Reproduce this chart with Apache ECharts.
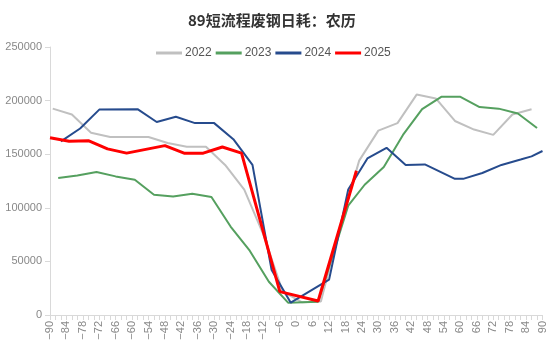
<!DOCTYPE html>
<html>
<head>
<meta charset="utf-8">
<script src="https://cdn.jsdelivr.net/npm/echarts@6/dist/echarts.min.js"></script>
<style>
  html, body { margin: 0; padding: 0; background: #fff; }
  #chart { width: 548px; height: 352px; }
</style>
</head>
<body>
<div id="chart"></div>
<script>
// 农历偏移天数 / 日耗（吨），按图读取的折点
var s2022 = [[-89, 192500], [-82, 187000], [-75, 170000], [-68, 166000], [-54, 166000], [-47, 160500],
  [-40, 157000], [-33, 157000], [-26, 140000], [-19, 117000], [-12, 75000], [-5, 22000], [2, 12000],
  [9, 12500], [16, 82000], [23, 144000], [30, 172000], [37, 179000], [44, 205600], [51, 202000],
  [58, 181000], [65, 173000], [72, 168000], [79, 187000], [86, 192000]];
var s2023 = [[-87, 127800], [-80, 130200], [-73, 133400], [-66, 129300], [-59, 126200], [-52, 112200],
  [-45, 110600], [-38, 113100], [-31, 110000], [-24, 82500], [-17, 60000], [-10, 31000], [-3, 11500],
  [8, 12400], [19, 102000], [25, 121500], [32, 138000], [39, 168000], [46, 192000], [53, 203500],
  [60, 203500], [67, 194000], [74, 192500], [81, 188000], [88, 174500]];
var s2024 = [[-86, 162000], [-79, 174000], [-72, 191600], [-58, 192000], [-51, 180000], [-44, 185000],
  [-37, 179000], [-30, 179000], [-23, 164000], [-16, 140000], [-9, 42000], [-2, 11500], [12, 33000],
  [19, 117000], [26, 146000], [33, 156000], [40, 140000], [47, 140500], [58, 127000], [61, 127000],
  [68, 132500], [75, 140000], [82, 145000], [86, 148000], [90, 153000]];
var s2025 = [[-90, 165400], [-83, 162000], [-76, 162600], [-69, 155000], [-62, 151000], [-55, 154500],
  [-48, 158000], [-41, 151000], [-34, 151000], [-27, 156700], [-20, 151000], [-6, 21800], [8, 13100],
  [22, 134600]];

var seriesNames = ['2022', '2023', '2024', '2025'];
var seriesData = [s2022, s2023, s2024, s2025];
var seriesColors = ['#c0c0c0', '#55a05f', '#264b8d', '#ff0000'];
var seriesWidths = [2, 2, 2, 3];

var chart = echarts.init(document.getElementById('chart'), null, {renderer: 'canvas'});

var series = seriesNames.map(function (name, i) {
  return {
    name: name,
    type: 'line',
    data: seriesData[i],
    symbol: 'none',
    smooth: false,
    z: i + 2,
    lineStyle: {color: seriesColors[i], width: seriesWidths[i]},
    itemStyle: {color: seriesColors[i]}
  };
});

var option = {
  backgroundColor: '#fff',
  animation: false,
  title: {
    text: '89短流程废钢日耗：农历',
    left: 183,
    top: 8,
    textStyle: {fontSize: 15, fontWeight: 'bold', color: '#333', fontFamily: 'Noto Sans CJK SC'}
  },
  legend: {
    data: seriesNames,
    top: 42,
    left: 151,
    icon: 'rect',
    itemWidth: 26,
    itemHeight: 3,
    itemGap: 4,
    textStyle: {fontSize: 12, color: '#555', fontFamily: 'Liberation Sans', padding: [0, 0, 0, -2]}
  },
  grid: {left: 50, right: 4, top: 47, bottom: 37, containLabel: false},
  xAxis: {
    type: 'value',
    min: -90,
    max: 90,
    interval: 6,
    axisLine: {show: true, onZero: false, lineStyle: {color: '#d9d9d9'}},
    axisTick: {show: true, length: 5, lineStyle: {color: '#d9d9d9'}},
    minorTick: {show: true, splitNumber: 3, length: 5, lineStyle: {color: '#d9d9d9'}},
    splitLine: {show: false},
    axisLabel: {
      rotate: 90, fontSize: 11, color: '#888', margin: 6, fontFamily: 'Liberation Sans',
      formatter: function (v) { return String(v).replace('-', '\u2212'); }
    }
  },
  yAxis: {
    type: 'value',
    min: 0,
    max: 250000,
    interval: 50000,
    axisLine: {show: true, onZero: false, lineStyle: {color: '#d9d9d9'}},
    axisTick: {show: true, length: 5, lineStyle: {color: '#d9d9d9'}},
    splitLine: {show: false},
    axisLabel: {
      fontSize: 11, color: '#888', margin: 8, fontFamily: 'Liberation Sans',
      formatter: function (v) { return String(v); }
    }
  },
  series: series
};

chart.setOption(option);
</script>
</body>
</html>
